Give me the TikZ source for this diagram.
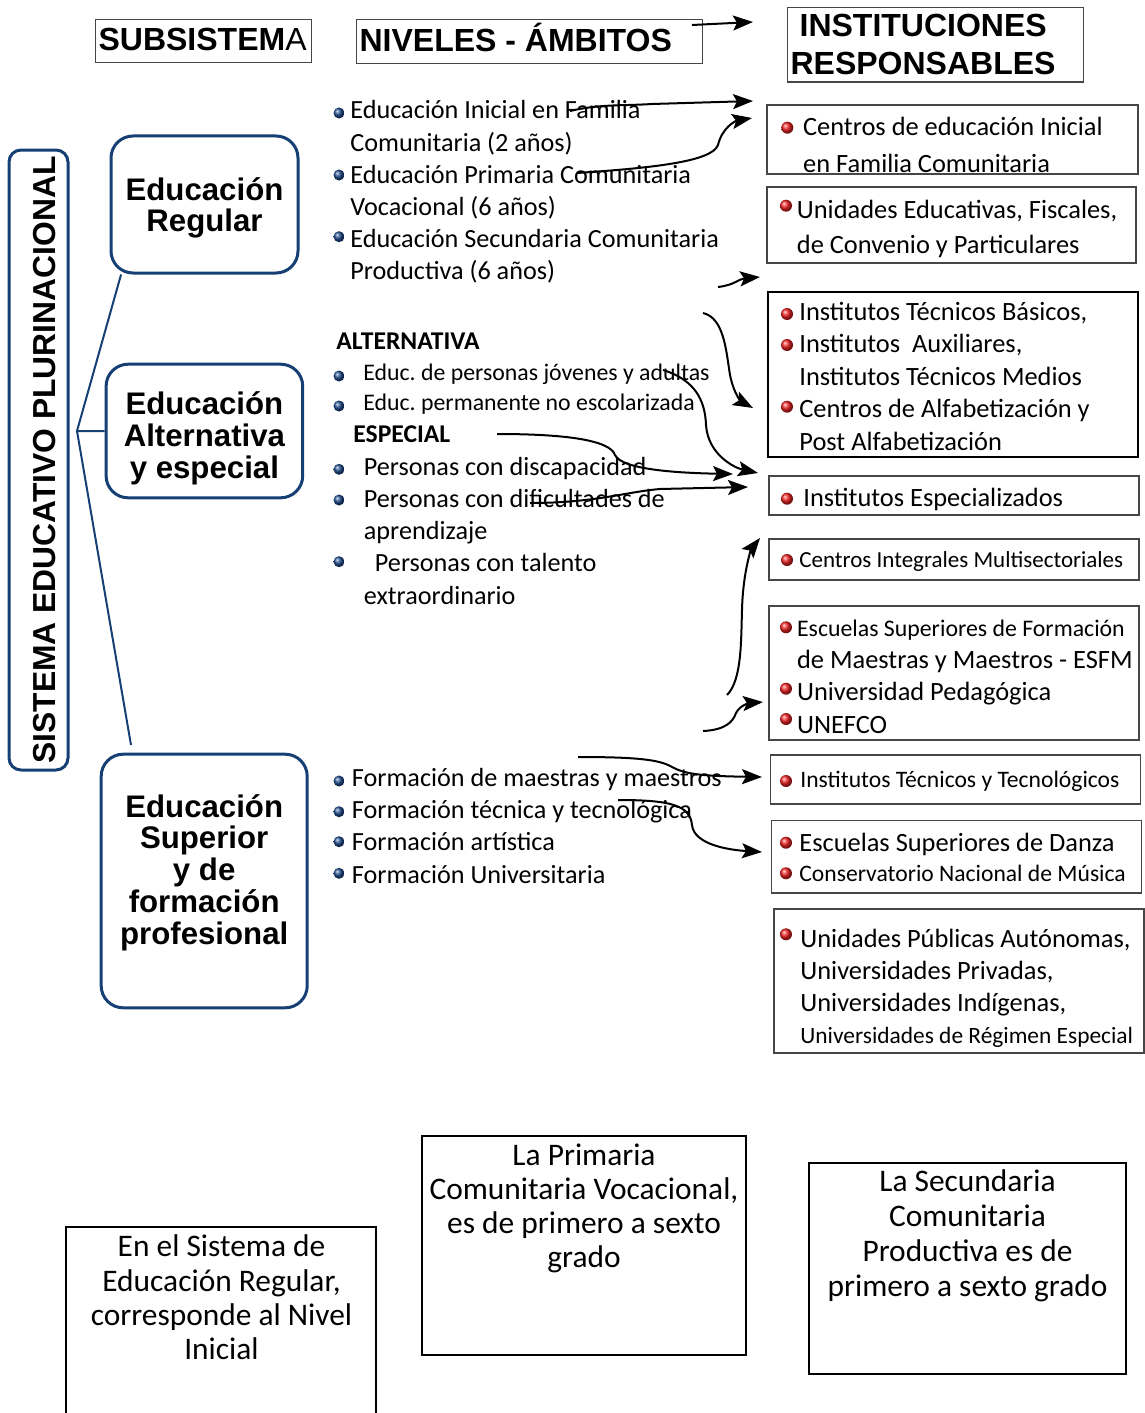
\documentclass[tikz,border=0pt]{standalone}
\usepackage{fontspec}
\newfontfamily\arial{Liberation Sans}
\newfontfamily\calibri{Carlito}
\usetikzlibrary{arrows.meta,fit}
\definecolor{azul}{RGB}{22,64,116}
\definecolor{bolaazul}{RGB}{30,75,140}
\definecolor{bolaroja}{RGB}{240,35,35}
\definecolor{borde}{RGB}{70,70,70}
\begin{document}
\begin{tikzpicture}[x=0.5pt,y=-0.5pt,
  cabeza/.style={draw=borde,line width=0.6pt,anchor=north west,inner xsep=1.5pt,align=flush left,
    font=\arial\fontsize{16}{18.85}\selectfont\bfseries},
  subsis/.style={draw=azul,line width=1.5pt,rounded corners=11pt,inner sep=0pt,align=flush center,
    text height=12pt,font=\arial\fontsize{15.6}{#1}\selectfont\bfseries},
  rama/.style={draw=azul,line width=1pt},
  lista/.style={anchor=base west,inner sep=0pt,text width=200pt,align=flush left,
    font=\calibri\fontsize{13.1}{#1}\selectfont},
  caja/.style={draw=borde,line width=0.6pt,inner sep=0pt},
  nota/.style={draw=black,line width=1pt,inner sep=0pt},
  inst/.style={anchor=base west,inner sep=0pt,text width=180pt,align=flush left,
    font=\calibri\fontsize{13.2}{#1}\selectfont},
  texto/.style={anchor=base,inner sep=0pt,text width=165pt,align=flush center,
    font=\calibri\fontsize{15.7}{#1}\selectfont},
  flecha/.style={draw,line width=1pt,-{Stealth[length=10pt,width=7.5pt,inset=2pt]}}]
\newcommand\bolita[4]{\shade[ball color=#1] (#2,#3) circle (#4);}
\useasboundingbox (0,0) rectangle (1145,1413);

% cabeceras
\node[cabeza,text width=105pt,minimum height=21.5pt,inner ysep=4pt,text height=11.5pt,text depth=2pt]
  (tsub) at (95,19) {SUBSISTEM{\mdseries A}};
\node[cabeza,text width=170pt,minimum height=22pt,inner ysep=4pt,text height=11.5pt,text depth=2pt]
  (tniv) at (356,19) {NIVELES - ÁMBITOS};
\node[cabeza,text width=145pt,inner ysep=3.5pt]
  (tinst) at (787,7) {\hspace*{4.5pt}INSTITUCIONES\\RESPONSABLES};

% sistema y subsistemas
\node[draw=azul,line width=1.5pt,rounded corners=6pt,rotate=90,minimum width=310pt,minimum height=29.5pt,
  inner sep=0pt,text height=16.5pt,text depth=0pt,font=\arial\fontsize{15.9}{16}\selectfont\bfseries]
  (sep) at (38.5,460) {SISTEMA EDUCATIVO PLURINACIONAL};
\node[subsis=15.85pt,minimum width=93.5pt,minimum height=68.5pt,text depth=16.5pt,text width=90pt]
  (reg) at (204.5,204.5) {Educación\\Regular};
\node[subsis=16pt,minimum width=98.3pt,minimum height=66.8pt,text depth=28.3pt,text width=95pt]
  (alt) at (204.4,431) {Educación\\Alternativa\\y especial};
\node[subsis=15.9pt,minimum width=103pt,minimum height=126.8pt,text depth=76pt,text width=100pt]
  (sup) at (204.2,881) {Educación\\Superior\\y de\\formación\\profesional};
\coordinate (nudo) at (77,431);
\coordinate (rsup) at (131,745);
\path[rama] (reg.220) -- (nudo) -- (alt.west);
\path[rama] (nudo) -- (rsup);

% niveles y ambitos
\node[lista=16.1pt] (lreg) at (350,119) {Educación Inicial en Familia\\Comunitaria (2 años)\\
  Educación Primaria Comunitaria\\Vocacional (6 años)\\Educación Secundaria Comunitaria\\Productiva (6 años)};
\node[lista=14pt,font=\calibri\bfseries\fontsize{12.8}{14}\selectfont] (talt) at (336,349) {ALTERNATIVA};
\node[lista=15pt,font=\calibri\fontsize{11.9}{15}\selectfont] (lalt) at (363,380)
  {Educ.\ de personas jóvenes y adultas\\Educ.\ permanente no escolarizada};
\node[lista=14pt,font=\calibri\bfseries\fontsize{12.8}{14}\selectfont] (tesp) at (353,442.7) {ESPECIAL};
\node[lista=16.15pt] (lesp) at (363.5,475) {Personas con discapacidad\\Personas con dificultades de\\
  aprendizaje\\\hspace*{5.5pt}Personas con talento\\extraordinario};
\node[lista=16.05pt] (lsup) at (351.5,786.7) {Formación de maestras y maestros\\Formación técnica y tecnológica\\
  Formación artística\\Formación Universitaria};
\foreach \y in {113,175,236.7,376,406,469.3,500,561.7,781,811.7,841.7,873.3}
  {\bolita{bolaazul}{339}{\y}{5.5}}

% instituciones responsables
\node[caja,fit={(767,105) (1138,174)}] (b1) {};
\node[inst=18.85pt] (t1) at (802.7,135) {Centros de educación Inicial\\en Familia Comunitaria};
\node[caja,fit={(767,187) (1136,263)}] (b2) {};
\node[inst=17.35pt] (t2) at (796.5,218.3) {Unidades Educativas, Fiscales,\\de Convenio y Particulares};
\node[caja,draw=black,line width=1.1pt,fit={(768,292) (1138,457)}] (b3) {};
\node[inst=16.25pt] (t3) at (799,320) {Institutos Técnicos Básicos,\\Institutos\ \ Auxiliares,\\
  Institutos Técnicos Medios\\Centros de Alfabetización y\\Post Alfabetización};
\node[caja,fit={(769,476) (1139,515)}] (b4) {};
\node[inst=16pt] (t4) at (803,506) {Institutos Especializados};
\node[caja,fit={(769,539) (1139,580)}] (b5) {};
\node[inst=14pt,font=\calibri\fontsize{11.5}{14}\selectfont] (t5) at (799,567) {Centros Integrales Multisectoriales};
\node[caja,fit={(769,606) (1139,740)}] (b6) {};
\node[inst=16.05pt] (t6) at (796.7,636.7) {{\fontsize{11.9}{14}\selectfont Escuelas Superiores de Formación}\\
  de Maestras y Maestros - ESFM\\Universidad Pedagógica\\UNEFCO};
\node[caja,fit={(770.7,755) (1140.7,804)}] (b7) {};
\node[inst=14pt,font=\calibri\fontsize{11.8}{14}\selectfont] (t7) at (800,787) {Institutos Técnicos y Tecnológicos};
\node[caja,fit={(771.7,820.7) (1141.7,893)}] (b8) {};
\node[inst=14.65pt] (t8) at (799,851.7) {Escuelas Superiores de Danza\\
  {\fontsize{11.8}{14}\selectfont Conservatorio Nacional de Música}};
\node[caja,fit={(774,909) (1144,1053)}] (b9) {};
\node[inst=16.1pt] (t9) at (800,947.3) {Unidades Públicas Autónomas,\\Universidades Privadas,\\
  Universidades Indígenas,\\{\fontsize{11.7}{14}\selectfont Universidades de Régimen Especial}};
\foreach \x/\y in {787.3/127.7,786/205.7,787/314,787/345,787/406.7,787/498.7,787/560,
  786/627.3,786/688.7,786/719,786/781,786/842.7,786/873.3,786/934.3}
  {\bolita{bolaroja}{\x}{\y}{6}}

% notas
\node[nota,fit={(66,1227) (376,1440)}] (na) {};
\node[texto=17.2pt] (ta) at (221.5,1256.7) {En el Sistema de\\Educación Regular,\\corresponde al Nivel\\Inicial};
\node[nota,fit={(422,1136) (746,1355)}] (nb) {};
\node[texto=17pt] (tb) at (584,1165) {La Primaria\\Comunitaria Vocacional,\\es de primero a sexto\\grado};
\node[nota,fit={(809.3,1162.7) (1125.7,1374.3)}] (nc) {};
\node[texto=17.5pt] (tc) at (967.5,1191.7) {La Secundaria\\Comunitaria\\Productiva es de\\primero a sexto grado};

% flechas
\coordinate (f1a) at (692,25);   \coordinate (f1b) at (753,22);
\coordinate (f2a) at (570,111);  \coordinate (f2b) at (753,101);
\coordinate (f3a) at (577,173);  \coordinate (f3b) at (752,118);
\coordinate (f4a) at (718,287);  \coordinate (f4b) at (760,277);
\coordinate (f5a) at (703,313);  \coordinate (f5b) at (753,408);
\coordinate (f6a) at (663,370);  \coordinate (f6b) at (758,473);
\coordinate (f7a) at (497,434);  \coordinate (f7b) at (733,474);
\coordinate (f8a) at (530,503);  \coordinate (f8b) at (748,487);
\coordinate (f9a) at (727,695);  \coordinate (f9b) at (760,538);
\coordinate (f10a) at (703,731); \coordinate (f10b) at (763,702);
\coordinate (f11a) at (578,757); \coordinate (f11b) at (762,777);
\coordinate (f12a) at (618,800); \coordinate (f12b) at (762,852);
\path[flecha] (f1a) -- (f1b);
\path[flecha] (f2a) .. controls (600,104) and (620,106) .. (652,104) -- (f2b);
\path[flecha] (f3a) .. controls (650,168) and (712,162) .. (718,145) .. controls (722,128) and (735,121) .. (f3b);
\path[flecha] (f4a) .. controls (735,285) and (738,279) .. (f4b);
\path[flecha] (f5a) .. controls (724,318) and (726,350) .. (730,375) .. controls (734,395) and (742,402) .. (f5b);
\path[flecha] (f6a) .. controls (695,380) and (705,400) .. (706,425) .. controls (708,455) and (735,468) .. (f6b);
\path[flecha] (f7a) .. controls (565,434) and (610,440) .. (615,455) .. controls (622,470) and (680,473) .. (f7b);
\path[flecha] (f8a) .. controls (595,503) and (625,492) .. (660,489) -- (f8b);
\path[flecha] (f9a) .. controls (742,680) and (741,640) .. (742,610) .. controls (743,570) and (752,548) .. (f9b);
\path[flecha] (f10a) .. controls (725,730) and (733,722) .. (736,713) .. controls (740,705) and (750,703) .. (f10b);
\path[flecha] (f11a) .. controls (640,757) and (660,760) .. (672,767) .. controls (685,774) and (700,776) .. (f11b);
\path[flecha] (f12a) .. controls (670,800) and (690,805) .. (692,825) .. controls (694,845) and (730,850) .. (f12b);
\end{tikzpicture}
\end{document}
